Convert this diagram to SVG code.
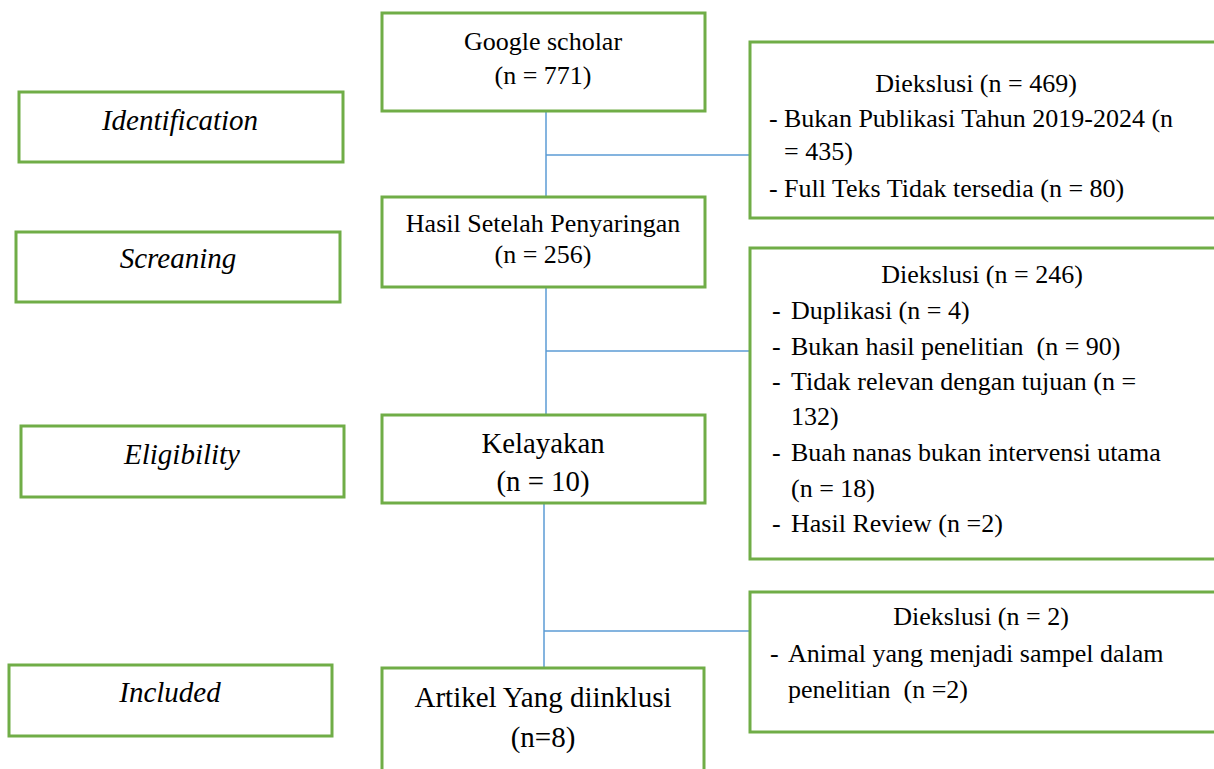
<svg xmlns="http://www.w3.org/2000/svg" width="1214" height="769" viewBox="0 0 1214 769">
<style>
.box{fill:#fff;stroke:#70ad47;stroke-width:3}
.t{font-family:"Liberation Serif","Times New Roman",serif;font-size:26px;fill:#000;white-space:pre}
.c{text-anchor:middle}
.it{font-style:italic;font-size:29px}
.conn line{stroke:#5b9bd5;stroke-width:1.5}
</style>
<rect width="1214" height="769" fill="#fff"/>
<g class="conn" id="connectors">
<line x1="546" y1="111" x2="546" y2="197"/>
<line x1="546" y1="155" x2="751" y2="155"/>
<line x1="546" y1="287" x2="546" y2="415"/>
<line x1="546" y1="351" x2="751" y2="351"/>
<line x1="544" y1="503" x2="544" y2="668"/>
<line x1="544" y1="631" x2="751" y2="631"/>
</g>
<g id="identification">
<rect class="box" x="19" y="92" width="324" height="70"/>
<text class="t c it" x="180" y="130">Identification</text>
</g>
<g id="screaning">
<rect class="box" x="16" y="232" width="324" height="70"/>
<text class="t c it" x="178" y="268">Screaning</text>
</g>
<g id="eligibility">
<rect class="box" x="21" y="426" width="323" height="71"/>
<text class="t c it" x="182" y="464">Eligibility</text>
</g>
<g id="included">
<rect class="box" x="9" y="665" width="323" height="71"/>
<text class="t c it" x="170" y="702">Included</text>
</g>
<g id="google">
<rect class="box" x="382" y="13" width="323" height="98"/>
<text class="t c" x="543" y="50">Google scholar</text>
<text class="t c" x="543" y="84">(n = 771)</text>
</g>
<g id="hasil">
<rect class="box" x="382" y="197" width="323" height="90"/>
<text class="t c" x="543" y="232">Hasil Setelah Penyaringan</text>
<text class="t c" x="543" y="263">(n = 256)</text>
</g>
<g id="kelayakan">
<rect class="box" x="382" y="415" width="323" height="88"/>
<text class="t c" x="543" y="453" style="font-size:28.8px">Kelayakan</text>
<text class="t c" x="543" y="491" style="font-size:28.8px">(n = 10)</text>
</g>
<g id="artikel">
<rect class="box" x="382" y="668" width="322" height="120"/>
<text class="t c" x="543" y="707" style="font-size:29px">Artikel Yang diinklusi</text>
<text class="t c" x="543" y="747" style="font-size:29px">(n=8)</text>
</g>
<g id="exclude1">
<rect class="box" x="750" y="42" width="480" height="176"/>
<text class="t c" x="976" y="92">Diekslusi (n = 469)</text>
<text class="t" x="769" y="127">-</text>
<text class="t" x="784" y="127">Bukan Publikasi Tahun 2019-2024 (n</text>
<text class="t" x="784" y="160">= 435)</text>
<text class="t" x="769" y="197">-</text>
<text class="t" x="784" y="197">Full Teks Tidak tersedia (n = 80)</text>
</g>
<g id="exclude2">
<rect class="box" x="750" y="248" width="480" height="311"/>
<text class="t c" x="982" y="283">Diekslusi (n = 246)</text>
<text class="t" x="772" y="319">-</text>
<text class="t" x="791" y="319">Duplikasi (n = 4)</text>
<text class="t" x="772" y="355">-</text>
<text class="t" x="791" y="355">Bukan hasil penelitian  (n = 90)</text>
<text class="t" x="772" y="390">-</text>
<text class="t" x="791" y="390">Tidak relevan dengan tujuan (n =</text>
<text class="t" x="791" y="425">132)</text>
<text class="t" x="772" y="461">-</text>
<text class="t" x="791" y="461">Buah nanas bukan intervensi utama</text>
<text class="t" x="791" y="497">(n = 18)</text>
<text class="t" x="772" y="532">-</text>
<text class="t" x="791" y="532">Hasil Review (n =2)</text>
</g>
<g id="exclude3">
<rect class="box" x="750" y="592" width="480" height="140"/>
<text class="t c" x="981" y="625">Diekslusi (n = 2)</text>
<text class="t" x="770" y="662">-</text>
<text class="t" x="788" y="662">Animal yang menjadi sampel dalam</text>
<text class="t" x="788" y="698">penelitian  (n =2)</text>
</g>
</svg>
